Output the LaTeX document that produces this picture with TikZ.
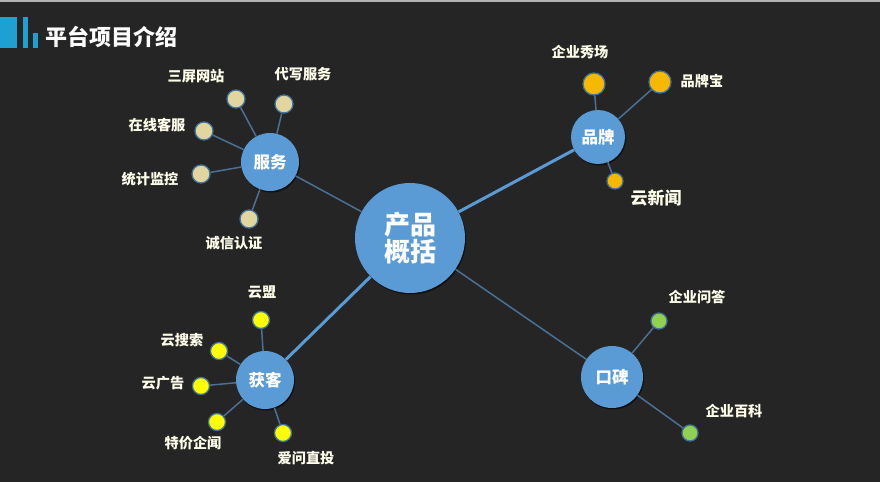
\documentclass[tikz,border=0pt]{standalone}
\usepackage{fontspec}
\setmainfont{Noto Sans CJK SC}
\usetikzlibrary{shadows}
\definecolor{bg}{HTML}{252525}
\definecolor{hub}{HTML}{5B9BD5}
\definecolor{thin}{HTML}{4A7193}
\definecolor{ring}{HTML}{41719C}
\definecolor{beige}{HTML}{E2D6A0}
\definecolor{orng}{HTML}{F7B900}
\definecolor{yel}{HTML}{FFFF00}
\definecolor{grn}{HTML}{92D050}
\definecolor{bar}{HTML}{1EA0D2}
\tikzset{
  hubnode/.style={circle, fill=hub, text=white, font=\bfseries\fontsize{16.5}{18}\selectfont, inner sep=0pt, drop shadow={shadow xshift=1pt, shadow yshift=-1.5pt, fill=black, opacity=0.6}},
  leaf/.style={circle, draw=ring, line width=1.3pt, inner sep=0pt},
  lbl/.style={text=white!92!yellow, font=\bfseries\fontsize{14.2}{16}\selectfont, inner sep=0pt},
  thinline/.style={draw=thin, line width=1.5pt},
  thickline/.style={draw=hub, line width=3pt},
}
\begin{document}
\begin{tikzpicture}[x=1pt,y=-1pt]
\fill[bg] (0,0) rectangle (880,482);
\fill[gray!60] (0,0) rectangle (880,1.5);
\useasboundingbox (0,0) rectangle (880,482);
% title
\fill[bar] (0,17) rectangle (17,48);
\fill[bar] (23,17) rectangle (28,48);
\fill[bar] (33,33) rectangle (38,48);
\node[anchor=west, text=white, font=\bfseries\fontsize{22}{24}\selectfont, inner sep=0pt] (title) at (45,37) {平台项目介绍};
% hubs
\node[hubnode, minimum size=110pt, font=\bfseries\fontsize{26}{29}\selectfont, align=center] (c) at (410,238) {产品\\[-2pt]概括};
\node[hubnode, minimum size=58pt] (fw) at (270,162) {服务};
\node[hubnode, minimum size=54pt] (pp) at (598,137) {品牌};
\node[hubnode, minimum size=58pt] (hk) at (265,380) {获客};
\node[hubnode, minimum size=62pt] (kb) at (612,377) {口碑};
% leaves
\node[leaf, fill=beige, minimum size=18pt] (a1) at (236,99) {};
\node[leaf, fill=beige, minimum size=18pt] (a2) at (284,104) {};
\node[leaf, fill=beige, minimum size=18pt] (a3) at (204,131) {};
\node[leaf, fill=beige, minimum size=18pt] (a4) at (201,174) {};
\node[leaf, fill=beige, minimum size=18pt] (a5) at (249,219) {};
\node[leaf, fill=orng, minimum size=22pt] (b1) at (594,84) {};
\node[leaf, fill=orng, minimum size=22pt] (b2) at (660,82) {};
\node[leaf, fill=orng, minimum size=16pt] (b3) at (615,181) {};
\node[leaf, fill=yel, minimum size=17pt] (d1) at (261,320) {};
\node[leaf, fill=yel, minimum size=17pt] (d2) at (219,351) {};
\node[leaf, fill=yel, minimum size=17pt] (d3) at (201,386) {};
\node[leaf, fill=yel, minimum size=17pt] (d4) at (217,422) {};
\node[leaf, fill=yel, minimum size=17pt] (d5) at (283,433) {};
\node[leaf, fill=grn, minimum size=16pt] (e1) at (659,321) {};
\node[leaf, fill=grn, minimum size=16pt] (e2) at (690,433) {};
% connectors
\draw[thinline] (c) -- (fw);
\draw[thickline] (c) -- (pp);
\draw[thickline] (c) -- (hk);
\draw[thinline] (c) -- (kb);
\foreach \n in {a1,a2,a3,a4,a5} \draw[thinline] (fw) -- (\n);
\foreach \n in {b1,b2,b3} \draw[thinline] (pp) -- (\n);
\foreach \n in {d1,d2,d3,d4,d5} \draw[thinline] (hk) -- (\n);
\foreach \n in {e1,e2} \draw[thinline] (kb) -- (\n);
% labels
\node[lbl] (la1) at (196,76) {三屏网站};
\node[lbl] (la2) at (303,74) {代写服务};
\node[lbl] (la3) at (157,125) {在线客服};
\node[lbl] (la4) at (150,179) {统计监控};
\node[lbl] (la5) at (234,243) {诚信认证};
\node[lbl] (lb1) at (580,52) {企业秀场};
\node[lbl] (lb2) at (702,81) {品牌宝};
\node[lbl, font=\bfseries\fontsize{17}{19}\selectfont] (lb3) at (656,198) {云新闻};
\node[lbl] (ld1) at (262,292) {云盟};
\node[lbl] (ld2) at (182,340) {云搜索};
\node[lbl] (ld3) at (163,383) {云广告};
\node[lbl] (ld4) at (193,443) {特价企闻};
\node[lbl] (ld5) at (306,458) {爱问直投};
\node[lbl] (le1) at (697,297) {企业问答};
\node[lbl] (le2) at (734,411) {企业百科};
\end{tikzpicture}
\end{document}
